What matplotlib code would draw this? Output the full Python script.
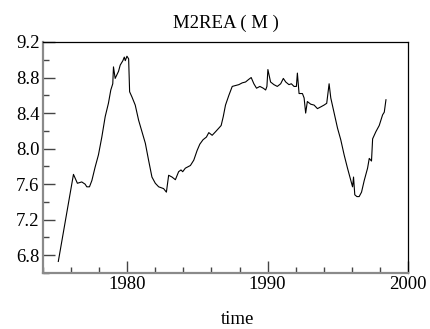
import matplotlib
matplotlib.use('Agg')
import matplotlib.pyplot as plt
from matplotlib.ticker import MultipleLocator, FormatStrFormatter

# ── Data ──────────────────────────────────────────────────────────────────
t = [1975.09, 1976.17, 1976.45, 1976.76, 1977.0, 1977.12, 1977.31, 1977.48,
     1977.71, 1977.95, 1978.19, 1978.43, 1978.66, 1978.83, 1978.97, 1979.02,
     1979.14, 1979.38, 1979.5, 1979.69, 1979.79, 1979.86, 1979.98, 1980.1,
     1980.17, 1980.34, 1980.57, 1980.81, 1981.05, 1981.29, 1981.52, 1981.76,
     1982.0, 1982.24, 1982.59, 1982.79, 1982.95, 1983.19, 1983.43, 1983.66,
     1983.83, 1983.95, 1984.14, 1984.5, 1984.74, 1984.98, 1985.17, 1985.4,
     1985.64, 1985.81, 1986.05, 1986.29, 1986.52, 1986.69, 1986.84, 1987.0,
     1987.24, 1987.48, 1987.71, 1987.95, 1988.19, 1988.43, 1988.66, 1988.83,
     1989.02, 1989.21, 1989.45, 1989.69, 1989.86, 1989.95, 1990.02, 1990.21,
     1990.45, 1990.69, 1990.93, 1991.12, 1991.29, 1991.52, 1991.69, 1991.88,
     1992.05, 1992.12, 1992.24, 1992.48, 1992.6, 1992.71, 1992.83, 1993.07,
     1993.31, 1993.55, 1993.79, 1994.02, 1994.21, 1994.38, 1994.5, 1994.74,
     1994.98, 1995.21, 1995.45, 1995.69, 1995.93, 1996.05, 1996.12, 1996.21,
     1996.36, 1996.52, 1996.69, 1996.88, 1997.12, 1997.24, 1997.4, 1997.48,
     1997.71, 1997.95, 1998.19, 1998.31, 1998.43]
m2rea = [6.73, 7.71, 7.61, 7.625, 7.6, 7.57, 7.57, 7.64,
         7.79, 7.93, 8.13, 8.36, 8.51, 8.66, 8.73, 8.92,
         8.79, 8.87, 8.94, 8.99, 9.03, 8.99, 9.04, 9.01,
         8.64, 8.58, 8.49, 8.32, 8.19, 8.06, 7.87, 7.68,
         7.61, 7.57, 7.55, 7.51, 7.70, 7.68, 7.65, 7.74,
         7.76, 7.74, 7.78, 7.81, 7.87, 7.98, 8.05, 8.10,
         8.13, 8.18, 8.15, 8.19, 8.23, 8.26, 8.36, 8.49,
         8.60, 8.70, 8.71, 8.72, 8.74, 8.75, 8.78, 8.80,
         8.73, 8.68, 8.70, 8.68, 8.66, 8.70, 8.89, 8.75,
         8.72, 8.70, 8.73, 8.79, 8.75, 8.72, 8.73, 8.70,
         8.70, 8.85, 8.62, 8.62, 8.57, 8.40, 8.53, 8.50,
         8.49, 8.45, 8.47, 8.49, 8.51, 8.73, 8.57, 8.40,
         8.23, 8.10, 7.93, 7.78, 7.64, 7.57, 7.68, 7.48,
         7.46, 7.46, 7.51, 7.64, 7.78, 7.89, 7.86, 8.11,
         8.19, 8.26, 8.38, 8.41, 8.55]

plt.rcParams['font.family'] = ['Liberation Serif', 'DejaVu Serif']

fig = plt.figure(figsize=(4.3, 3.29), dpi=100)
ax = fig.add_axes([43 / 430, 1 - 273 / 329, 365 / 430, 231 / 329])

ax.plot(t, m2rea, color='black', linewidth=0.8)

ax.set_xlim(1974, 2000)
ax.set_ylim(6.6, 9.2)
ax.xaxis.set_major_locator(MultipleLocator(10))
ax.xaxis.set_minor_locator(MultipleLocator(2))
ax.yaxis.set_major_locator(MultipleLocator(0.4))
ax.yaxis.set_minor_locator(MultipleLocator(0.2))
ax.yaxis.set_major_formatter(FormatStrFormatter('%.1f'))

gray = '#8a8a8a'
for side in ['left', 'bottom']:
    ax.spines[side].set_color(gray)
    ax.spines[side].set_linewidth(1.6)
for side in ['top', 'right']:
    ax.spines[side].set_color('black')
    ax.spines[side].set_linewidth(0.9)

ax.tick_params(which='both', direction='in', color='#444444', width=1.0,
               labelsize=13.5, pad=2.5)
ax.tick_params(which='major', length=8.5)
ax.tick_params(which='minor', length=4.5)

ax.set_title('M2REA ( M )', fontsize=13.5, pad=10)
ax.set_xlabel('time', fontsize=13.5)
ax.xaxis.set_label_coords(0.533, -0.165)

fig.savefig('out.png', dpi=100)
